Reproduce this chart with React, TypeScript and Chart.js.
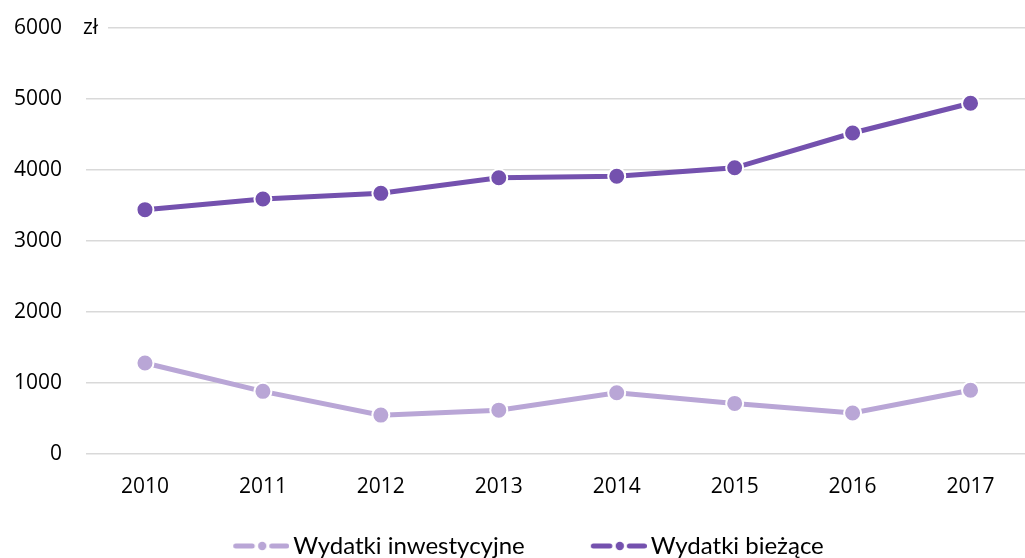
import React, { useEffect, useRef } from 'react';
import { Chart, registerables } from 'chart.js';

Chart.register(...registerables);

const years = ['2010', '2011', '2012', '2013', '2014', '2015', '2016', '2017'];
const investment = [1280, 880, 545, 615, 860, 710, 575, 895];
const current = [3440, 3590, 3670, 3890, 3910, 4030, 4520, 4940];
const seriesNames = ['Wydatki inwestycyjne', 'Wydatki bieżące'];
const yMin = 0;
const yMax = 6000;
const yStep = 1000;
const unitLabel = 'zł';

const LIGHT = '#B9A6D6';
const DARK = '#7451AE';
const GRID = '#D9D9D9';
const TICK_FONT = { family: '"Open Sans", "Noto Sans", sans-serif', size: 21 };
const LEGEND_FONT = { family: 'Lato, "Noto Sans", sans-serif', size: 24 };

const CANVAS_W = 1040;
const CANVAS_H = 568;
const LEGEND_PAD = 13;
const BOX_W = 101;
const LEGEND_SHIFT = -15;

function makeLegendIcon(color: string): HTMLCanvasElement {
  const w = BOX_W + 16;
  const h = 12;
  const c = document.createElement('canvas');
  c.width = w;
  c.height = h;
  const ctx = c.getContext('2d')!;
  const x0 = w - 56;
  const cy = h / 2;
  ctx.strokeStyle = color;
  ctx.fillStyle = color;
  ctx.lineWidth = 5;
  ctx.lineCap = 'round';
  ctx.beginPath();
  ctx.moveTo(x0 + 2.5, cy);
  ctx.lineTo(x0 + 19, cy);
  ctx.stroke();
  ctx.beginPath();
  ctx.moveTo(x0 + 38.5, cy);
  ctx.lineTo(x0 + 53.5, cy);
  ctx.stroke();
  ctx.beginPath();
  ctx.arc(x0 + 29, cy, 4.2, 0, Math.PI * 2);
  ctx.fill();
  return c;
}

const unitPlugin = {
  id: 'unitLabel',
  beforeDatasetsDraw(chart: any) {
    const { ctx, chartArea, scales } = chart;
    const y = scales.y.getPixelForValue(yMax);
    ctx.save();
    ctx.fillStyle = '#ffffff';
    ctx.fillRect(chartArea.left - 1, y - 3, 23, 6);
    ctx.fillStyle = '#000000';
    ctx.font = `${TICK_FONT.size}px ${TICK_FONT.family}`;
    ctx.textAlign = 'left';
    ctx.textBaseline = 'middle';
    ctx.fillText(unitLabel, chartArea.left - 3, y);
    ctx.restore();
  },
};

const legendShiftPlugin = {
  id: 'legendShift',
  beforeDraw(chart: any) {
    if (chart.legend && !chart.legend._shifted) {
      chart.legend.left += LEGEND_SHIFT;
      chart.legend.right += LEGEND_SHIFT;
      chart.legend._shifted = true;
    }
  },
};

export default function App() {
  const ref = useRef<HTMLCanvasElement | null>(null);

  useEffect(() => {
    if (!ref.current) return;
    const icons = [makeLegendIcon(LIGHT), makeLegendIcon(DARK)];
    const chart = new Chart(ref.current, {
      type: 'line',
      data: {
        labels: years,
        datasets: [
          {
            label: seriesNames[0],
            data: investment,
            borderColor: LIGHT,
            backgroundColor: LIGHT,
            borderWidth: 5,
            pointRadius: 8.5,
            pointBorderWidth: 2,
            pointBorderColor: '#ffffff',
            pointBackgroundColor: LIGHT,
            tension: 0,
          },
          {
            label: seriesNames[1],
            data: current,
            borderColor: DARK,
            backgroundColor: DARK,
            borderWidth: 5,
            pointRadius: 8.5,
            pointBorderWidth: 2,
            pointBorderColor: '#ffffff',
            pointBackgroundColor: DARK,
            tension: 0,
          },
        ],
      },
      options: {
        responsive: false,
        animation: false,
        layout: { padding: { top: 28, right: 6, left: 0, bottom: 0 } },
        scales: {
          x: {
            offset: true,
            grid: { display: false, drawTicks: false },
            border: { display: false },
            ticks: { font: TICK_FONT, color: '#000', padding: 21, maxRotation: 0 },
          },
          y: {
            min: yMin,
            max: yMax,
            grid: { color: GRID, lineWidth: 1.5, drawTicks: false },
            border: { display: false },
            ticks: {
              stepSize: yStep,
              font: TICK_FONT,
              color: '#000',
              padding: 24,
              callback: (v: any) => String(v),
            },
            afterFit(scale: any) {
              scale.width = 86;
              scale.paddingTop = 0;
            },
          },
        },
        plugins: {
          tooltip: { enabled: false },
          legend: {
            position: 'bottom',
            labels: {
              usePointStyle: true,
              pointStyleWidth: BOX_W,
              padding: LEGEND_PAD,
              font: LEGEND_FONT,
              color: '#000',
              generateLabels(ch: any) {
                return ch.data.datasets.map((ds: any, i: number) => ({
                  text: ds.label,
                  fillStyle: ds.borderColor,
                  strokeStyle: ds.borderColor,
                  lineWidth: 0,
                  pointStyle: icons[i],
                  hidden: false,
                  datasetIndex: i,
                  fontColor: '#000',
                }));
              },
            },
          },
        },
      },
      plugins: [unitPlugin, legendShiftPlugin],
    } as any);
    return () => chart.destroy();
  }, []);

  return (
    <div
      style={{
        position: 'fixed',
        left: 0,
        top: 0,
        width: 1025,
        height: 558,
        overflow: 'hidden',
        background: '#fff',
      }}
    >
      <canvas ref={ref} width={CANVAS_W} height={CANVAS_H} style={{ display: 'block', width: CANVAS_W, height: CANVAS_H }} />
    </div>
  );
}
